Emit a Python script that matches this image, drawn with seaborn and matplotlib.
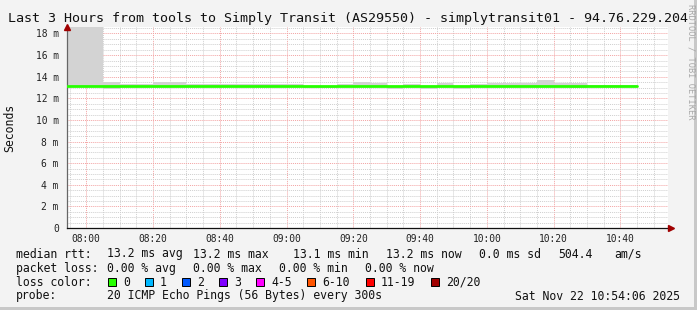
import matplotlib
matplotlib.use("Agg")
import matplotlib.pyplot as plt
import matplotlib.dates as mdates
from matplotlib.patches import Rectangle
import numpy as np
import pandas as pd
import seaborn as sns

# ---------------- data ----------------
title = "Last 3 Hours from tools to Simply Transit (AS29550) - simplytransit01 - 94.76.229.204"
step_start = ["07:50", "07:55", "08:00", "08:05", "08:10", "08:15", "08:20", "08:25",
              "08:30", "08:35", "08:40", "08:45", "08:50", "08:55", "09:00", "09:05",
              "09:10", "09:15", "09:20", "09:25", "09:30", "09:35", "09:40", "09:45",
              "09:50", "09:55", "10:00", "10:05", "10:10", "10:15", "10:20", "10:25",
              "10:30", "10:35", "10:40"]
data_end = "10:45"
median_ms = [13.13, 13.13, 13.13, 13.13, 13.13, 13.13, 13.13, 13.13,
             13.13, 13.13, 13.13, 13.13, 13.13, 13.13, 13.13, 13.11,
             13.11, 13.13, 13.13, 13.13, 13.13, 13.13, 13.13, 13.13,
             13.13, 13.13, 13.13, 13.13, 13.13, 13.13, 13.13, 13.11,
             13.13, 13.13, 13.13]
smoke_lo = [13.13, 13.13, 13.13, 12.88, 13.13, 13.13, 13.13, 13.13,
            13.13, 13.13, 13.13, 13.13, 13.13, 13.13, 13.13, 12.93,
            12.93, 13.13, 13.13, 13.13, 12.86, 13.13, 12.87, 13.13,
            12.87, 13.13, 13.13, 13.13, 13.13, 13.13, 13.13, 12.96,
            13.13, 13.13, 13.13]
smoke_hi = [19.0, 19.0, 19.0, 13.48, 13.28, 13.28, 13.48, 13.48,
            13.28, 13.28, 13.28, 13.28, 13.28, 13.28, 13.28, 13.13,
            13.13, 13.28, 13.48, 13.45, 13.13, 13.28, 13.13, 13.45,
            13.13, 13.28, 13.42, 13.42, 13.42, 13.7, 13.45, 13.45,
            13.22, 13.22, 13.22]
y_ticks = [0, 2, 4, 6, 8, 10, 12, 14, 16, 18]
y_tick_labels = ["0", "2 m", "4 m", "6 m", "8 m", "10 m", "12 m", "14 m", "16 m", "18 m"]
loss_labels = ["0", "1", "2", "3", "4-5", "6-10", "11-19", "20/20"]
loss_colors = ["#26ff00", "#00b8ff", "#0059ff", "#7e00ff", "#ff00ff", "#ff5500", "#ff0000", "#a10000"]
median_row = ["median rtt:", "13.2 ms avg", "13.2 ms max", "13.1 ms min", "13.2 ms now", "0.0 ms sd", "504.4", "am/s"]
loss_row = ["packet loss:", "0.00 % avg", "0.00 % max", "0.00 % min", "0.00 % now"]
probe_row = ["probe:", "20 ICMP Echo Pings (56 Bytes) every 300s"]
stamp = "Sat Nov 22 10:54:06 2025"
day = "2025-11-22 "

# ---------------- figure ----------------
W, H = 697, 310
sns.set_style("white")
plt.rcParams["font.family"] = ["DejaVu Sans Mono", "DejaVu Sans"]
fig = plt.figure(figsize=(W / 100, H / 100), dpi=100, facecolor="#f3f3f3")

def fx(x):
    return x / W

def fy(y):
    return 1 - y / H

# 3D border
fig.add_artist(Rectangle((fx(694), 0), fx(3), 1, transform=fig.transFigure, color="#c8c8c8", lw=0))
fig.add_artist(Rectangle((0, 0), 1, 3 / H, transform=fig.transFigure, color="#c8c8c8", lw=0))

L, R, T, B = 67, 668, 27, 228
ax = fig.add_axes([fx(L), fy(B), (R - L) / W, (B - T) / H])
ax.set_facecolor("white")

t = pd.to_datetime([day + s for s in step_start] + [day + data_end])
lo = np.array(smoke_lo + [smoke_lo[-1]])
hi = np.array(smoke_hi + [smoke_hi[-1]])
med = np.array(median_ms + [median_ms[-1]])

# grid
t0 = pd.Timestamp(day + "07:54:15")
t1 = pd.Timestamp(day + "10:54:15")
ax.set_xlim(t0, t1)
ax.set_ylim(0, 18.6)
ax.xaxis.set_major_locator(mdates.MinuteLocator(byminute=[0, 20, 40]))
ax.xaxis.set_minor_locator(mdates.MinuteLocator(byminute=range(0, 60, 5)))
ax.xaxis.set_major_formatter(mdates.DateFormatter("%H:%M"))
ax.set_yticks(y_ticks)
ax.set_yticklabels(y_tick_labels)
ax.set_yticks(np.arange(0, 18.6, 0.5), minor=True)
ax.grid(which="minor", color="#cfcfcf", linestyle=(0, (1, 1)), lw=0.7)
ax.grid(which="major", color="#f3a3a3", linestyle=(0, (1, 1)), lw=0.7)
ax.set_axisbelow(True)

# smoke
ax.fill_between(t, lo, hi, step="post", color="#d3d3d3", lw=0, zorder=2)
# median
sns.lineplot(x=t, y=med, ax=ax, color="#26ff00", lw=2.0, drawstyle="steps-post", zorder=3)

ax.tick_params(axis="both", which="major", labelsize=6.9, length=3, width=0.6, color="#777777")
ax.tick_params(axis="both", which="minor", length=0)
ax.tick_params(axis="y", pad=3)
ax.tick_params(axis="x", pad=1.5)
for lab in ax.get_xticklabels() + ax.get_yticklabels():
    lab.set_color("#222222")

for s in ["top", "right"]:
    ax.spines[s].set_visible(False)
ax.spines["left"].set_color("#666666")
ax.spines["left"].set_linewidth(0.9)
ax.spines["bottom"].set_color("#111111")
ax.spines["bottom"].set_linewidth(0.9)
ax.plot([0], [1.0], marker="^", color="#a00000", markersize=5, transform=ax.transAxes, clip_on=False, zorder=5)
ax.plot([1.005], [0], marker=">", color="#a00000", markersize=5, transform=ax.transAxes, clip_on=False, zorder=5)
ax.set_xlabel("")
ax.set_ylabel("")

# texts
fig.text(fx(348), fy(18.5), title, fontsize=9.6, ha="center", va="center", color="#111111")
fig.text(fx(10), fy(127.5), "Seconds", fontsize=8.3, rotation=90, ha="center", va="center", color="#111111")
fig.text(fx(691), fy(62), "RRDTOOL / TOBI OETIKER", fontsize=6.2, rotation=270, ha="center", va="center", color="#a8a8a8")

fs = 8.3
med_x = [16, 107, 193, 292.7, 385.7, 479.3, 558.3, 614.3]
for s, x in zip(median_row, med_x):
    fig.text(fx(x), fy(254), s, fontsize=fs, ha="left", va="center", color="#111111")
loss_x = [16, 107, 193, 279, 365]
for s, x in zip(loss_row, loss_x):
    fig.text(fx(x), fy(268.5), s, fontsize=fs, ha="left", va="center", color="#111111")
fig.text(fx(16), fy(282), "loss color:", fontsize=fs, ha="left", va="center", color="#111111")
box_x = [108, 145, 182, 219, 256, 307, 366, 431]
for s, c, x in zip(loss_labels, loss_colors, box_x):
    fig.add_artist(Rectangle((fx(x), fy(286)), 8 / W, 8 / H, transform=fig.transFigure,
                             facecolor=c, edgecolor="#000000", lw=0.7))
    fig.text(fx(x + 15), fy(282), s, fontsize=fs, ha="left", va="center", color="#111111")
fig.text(fx(16), fy(296), probe_row[0], fontsize=fs, ha="left", va="center", color="#111111")
fig.text(fx(107), fy(296), probe_row[1], fontsize=fs, ha="left", va="center", color="#111111")
fig.text(fx(680), fy(296), stamp, fontsize=fs, ha="right", va="center", color="#111111")

fig.savefig("out.png", dpi=100, facecolor=fig.get_facecolor())
